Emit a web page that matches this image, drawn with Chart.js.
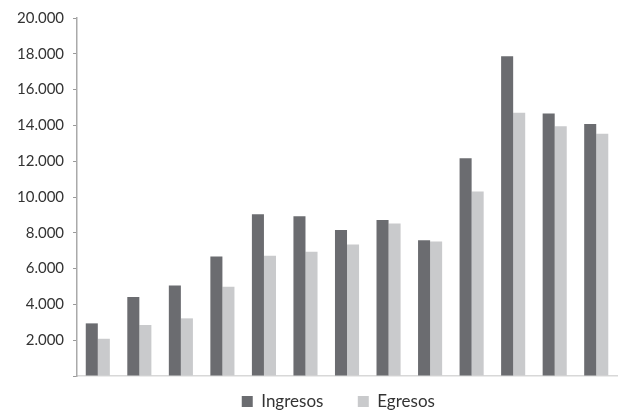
<!DOCTYPE html>
<html>
<head>
<meta charset="utf-8">
<script src="https://cdn.jsdelivr.net/npm/chart.js@4"></script>
<style>
html,body{margin:0;padding:0;background:#fff;}
#wrap{width:629px;height:415px;position:relative;}
</style>
</head>
<body>
<div id="wrap"><canvas id="c" width="629" height="415"></canvas></div>
<script>
const categories = ["1","2","3","4","5","6","7","8","9","10","11","12","13"];
const ingresos = [2940, 4420, 5060, 6680, 9040, 8930, 8150, 8710, 7580, 12160, 17870, 14670, 14080];
const egresos  = [2080, 2850, 3220, 4990, 6720, 6940, 7340, 8520, 7510, 10310, 14700, 13950, 13540];
const yTicks = [0, 2000, 4000, 6000, 8000, 10000, 12000, 14000, 16000, 18000, 20000];

function fmt(v){ return v === 0 ? '' : String(v).replace(/\B(?=(\d{3})+(?!\d))/g, '.'); }

new Chart(document.getElementById('c'), {
  type: 'bar',
  data: {
    labels: categories,
    datasets: [
      { label: 'Ingresos', data: ingresos, backgroundColor: '#6b6c70', categoryPercentage: 0.58, barPercentage: 1.0 },
      { label: 'Egresos', data: egresos, backgroundColor: '#c9cacc', categoryPercentage: 0.58, barPercentage: 1.0 }
    ]
  },
  options: {
    responsive: false,
    animation: false,
    layout: { padding: { top: 2, right: 12, left: 8, bottom: -5 } },
    plugins: {
      legend: {
        position: 'bottom',
        fullSize: false,
        labels: {
          boxWidth: 11, boxHeight: 11, padding: 17, color: '#333',
          font: { family: 'Lato', size: 17 },
          generateLabels: (chart) => {
            const items = Chart.defaults.plugins.legend.labels.generateLabels(chart);
            items[0].text = items[0].text + '\u00a0\u00a0\u00a0\u00a0';
            items[1].text = items[1].text + '\u00a0\u00a0\u00a0\u00a0';
            return items;
          }
        }
      },
      tooltip: { enabled: false }
    },
    scales: {
      x: {
        ticks: { display: false },
        grid: { display: false, drawTicks: false },
        border: { color: '#d8d8d8', width: 1.5 }
      },
      y: {
        min: 0, max: 20000,
        afterBuildTicks: (axis) => { axis.ticks = yTicks.map(v => ({ value: v })); },
        ticks: { callback: (v) => fmt(v), color: '#333', font: { family: 'Lato', size: 15 }, padding: 9 },
        grid: { drawOnChartArea: false, tickLength: 4, color: '#999', lineWidth: 1 },
        border: { color: '#aaa', width: 1.5 }
      }
    }
  }
});
</script>
</body>
</html>
